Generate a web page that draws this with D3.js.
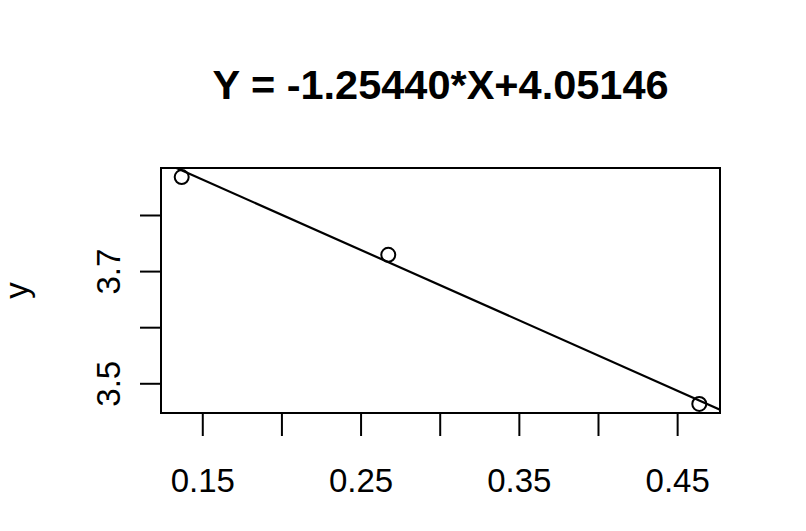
<!doctype html>
<html>
  <head>
    <title>Regression plot</title>
    <style>
      body { margin: 0; background: #fff; }
      svg { font-family: "Liberation Sans", Arial, sans-serif; }
    </style>
  </head>
  <script src="https://cdn.jsdelivr.net/npm/d3@7"></script>
  <body>
    <svg id="chart" width="806" height="531"></svg>
    <script>

    // data
    var xs = [0.137, 0.2675, 0.464];
    var ys = [3.8676, 3.729, 3.4632];
    var xTicks = [0.15, 0.20, 0.25, 0.30, 0.35, 0.40, 0.45];
    var xLabels = [0.15, 0.25, 0.35, 0.45];
    var yTicks = [3.5, 3.6, 3.7, 3.8];
    var yLabels = [3.5, 3.7];
    var slope = -1.25440, intercept = 4.05146;
    var title = "Y = -1.25440*X+4.05146";

    var svg = d3.select("#chart");
    var L = 161, R = 720, T = 168, B = 413;

    // R style 4% padding
    var pad = function(e) { var d = (e[1] - e[0]) * 0.04; return [e[0] - d, e[1] + d]; };
    var x = d3.scaleLinear().domain(pad(d3.extent(xs))).range([L, R]);
    var y = d3.scaleLinear().domain(pad(d3.extent(ys))).range([B, T]);

    svg.append("clipPath").attr("id", "clip")
      .append("rect").attr("x", L).attr("y", T).attr("width", R - L).attr("height", B - T);

    // regression line
    var dom = x.domain();
    svg.append("line")
      .attr("clip-path", "url(#clip)")
      .attr("x1", x(dom[0])).attr("y1", y(slope * dom[0] + intercept))
      .attr("x2", x(dom[1])).attr("y2", y(slope * dom[1] + intercept))
      .attr("stroke", "#000").attr("stroke-width", 2.2);

    svg.selectAll("circle.pt")
      .data(d3.zip(xs, ys))
      .enter().append("circle")
      .attr("class", "pt")
      .attr("cx", function(d){ return x(d[0]); })
      .attr("cy", function(d){ return y(d[1]); })
      .attr("r", 7)
      .attr("fill", "none").attr("stroke", "#000").attr("stroke-width", 2);

    // box
    svg.append("rect").attr("x", L).attr("y", T).attr("width", R - L).attr("height", B - T)
      .attr("fill", "none").attr("stroke", "#000").attr("stroke-width", 2);

    // x axis
    var xa = svg.append("g").attr("transform", "translate(0," + B + ")")
      .call(d3.axisBottom(x).tickValues(xTicks).tickSize(23).tickPadding(33)
        .tickFormat(function(d){ return xLabels.some(function(v){ return Math.abs(v - d) < 1e-9; }) ? d3.format(".2f")(d) : ""; }));
    xa.select(".domain").remove();
    xa.selectAll("line").attr("stroke", "#000").attr("stroke-width", 2);
    xa.selectAll("text").attr("font-size", 33).attr("font-family", "Liberation Sans, Arial, sans-serif").attr("fill", "#000");

    // y axis
    var ya = svg.append("g").attr("transform", "translate(" + L + ",0)")
      .call(d3.axisLeft(y).tickValues(yTicks).tickSize(21)
        .tickFormat(function(d){ return yLabels.some(function(v){ return Math.abs(v - d) < 1e-9; }) ? d3.format(".1f")(d) : ""; }));
    ya.select(".domain").remove();
    ya.selectAll("line").attr("stroke", "#000").attr("stroke-width", 2);
    ya.selectAll("text")
      .attr("font-size", 33).attr("font-family", "Liberation Sans, Arial, sans-serif").attr("fill", "#000")
      .attr("x", null).attr("dy", null)
      .attr("text-anchor", "middle")
      .attr("transform", "translate(-41,0) rotate(-90)");

    // y label
    svg.append("text")
      .attr("transform", "translate(28," + ((T + B) / 2) + ") rotate(-90)")
      .attr("text-anchor", "middle").attr("font-size", 33).text("y");

    // title
    svg.append("text")
      .attr("x", (L + R) / 2).attr("y", 99)
      .attr("text-anchor", "middle").attr("font-size", 41.5).attr("font-weight", "bold")
      .text(title);

  </script>
  </body>
</html>
